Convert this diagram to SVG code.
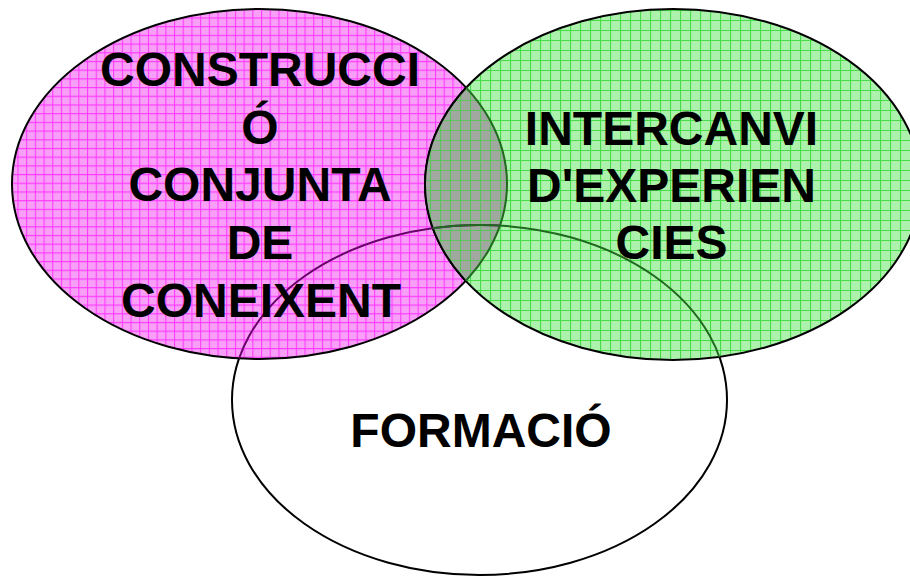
<svg xmlns="http://www.w3.org/2000/svg" width="910" height="576" viewBox="0 0 910 576">
  <style>
    .lbl { font-family: "Liberation Sans", Arial, sans-serif; font-weight: bold; font-size: 48px; fill: #000; text-anchor: middle; }
    .edge { fill: none; stroke-width: 2; }
  </style>
  <defs>
    <pattern id="pinkGrid" patternUnits="userSpaceOnUse" width="8.7" height="8.7">
      <rect width="8.7" height="8.7" fill="#f8a0f8"/>
      <path d="M0.5 0 V8.7 M0 0.5 H8.7" stroke="#ff3cff" stroke-width="1.2" fill="none"/>
    </pattern>
    <pattern id="greenGrid" patternUnits="userSpaceOnUse" width="10" height="10">
      <rect width="10" height="10" fill="#acf2ac"/>
      <path d="M0.5 0 V10 M0 0.5 H10" stroke="#48dc48" stroke-width="1.2" fill="none"/>
    </pattern>
    <pattern id="grayGrid" patternUnits="userSpaceOnUse" width="10" height="10">
      <rect width="10" height="10" fill="#a0a8a0"/>
      <path d="M0.5 0 V10 M0 0.5 H10" stroke="#5cc45c" stroke-width="1.2" fill="none"/>
    </pattern>
    <clipPath id="clipPink"><ellipse cx="259.5" cy="184" rx="247.5" ry="175"/></clipPath>
    <clipPath id="clipGreen"><ellipse cx="673" cy="184.5" rx="248" ry="175.5"/></clipPath>
  </defs>

  <g id="node-formacio">
    <ellipse cx="479.5" cy="400" rx="247.5" ry="175" fill="#fff" stroke="#000" class="edge"/>
  </g>

  <g id="node-construccio">
    <ellipse cx="259.5" cy="184" rx="247.5" ry="175" fill="url(#pinkGrid)" stroke="#000" stroke-width="2"/>
  </g>

  <g id="node-intercanvi">
    <ellipse cx="673" cy="184.5" rx="248" ry="175.5" fill="url(#greenGrid)" stroke="#000" stroke-width="2"/>
  </g>

  <g id="overlaps">
    <g clip-path="url(#clipPink)">
      <ellipse cx="673" cy="184.5" rx="248" ry="175.5" fill="url(#grayGrid)" stroke="#000" stroke-width="2"/>
    </g>
    <g clip-path="url(#clipGreen)">
      <ellipse cx="259.5" cy="184" rx="247.5" ry="175" fill="none" stroke="#1f6a1f" stroke-width="2"/>
    </g>
    <g clip-path="url(#clipPink)">
      <ellipse cx="479.5" cy="400" rx="247.5" ry="175" fill="none" stroke="#6a006a" stroke-width="2"/>
    </g>
    <g clip-path="url(#clipGreen)">
      <ellipse cx="479.5" cy="400" rx="247.5" ry="175" fill="none" stroke="#1f6a1f" stroke-width="2"/>
    </g>
  </g>

  <g id="labels">
    <text class="lbl" x="260" y="86">CONSTRUCCI</text>
    <text class="lbl" x="260" y="143.5">Ó</text>
    <text class="lbl" x="260" y="201">CONJUNTA</text>
    <text class="lbl" x="260" y="259">DE</text>
    <text class="lbl" x="261" y="316.5">CONEIXENT</text>
    <text class="lbl" x="671.5" y="145">INTERCANVI</text>
    <text class="lbl" x="671.5" y="202">D'EXPERIEN</text>
    <text class="lbl" x="671.5" y="259">CIES</text>
    <text class="lbl" x="481" y="447">FORMACIÓ</text>
  </g>
</svg>
